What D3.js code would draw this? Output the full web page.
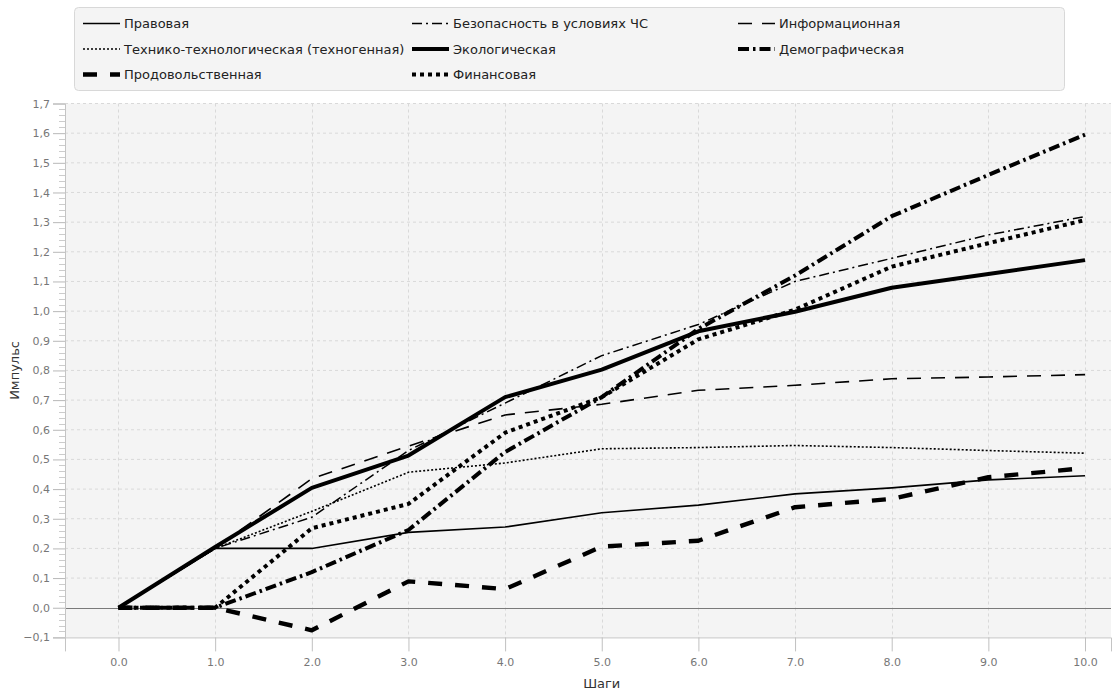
<!DOCTYPE html>
<html>
<head>
<meta charset="utf-8">
<script src="https://cdn.jsdelivr.net/npm/d3@7"></script>
<style>
  html, body { margin: 0; padding: 0; background: #fff; }
  svg { display: block; font-family: "DejaVu Sans", sans-serif; }
</style>
</head>
<body>
<svg id="chart" width="1114" height="691"></svg>
<script>
// Steps on the horizontal axis
const steps = [0, 1, 2, 3, 4, 5, 6, 7, 8, 9, 10];

// Impulse values of each security component per step
const pravovaya         = [0, 0.2, 0.2, 0.254, 0.272, 0.32, 0.346, 0.384, 0.404, 0.431, 0.445];
const bezopasnostChs    = [0, 0.2, 0.305, 0.53, 0.69, 0.85, 0.955, 1.1, 1.178, 1.257, 1.319];
const informatsionnaya  = [0, 0.2, 0.435, 0.545, 0.65, 0.686, 0.733, 0.75, 0.772, 0.778, 0.786];
const tekhnogennaya     = [0, 0.2, 0.325, 0.457, 0.488, 0.536, 0.54, 0.547, 0.54, 0.53, 0.521];
const ekologicheskaya   = [0, 0.205, 0.404, 0.513, 0.71, 0.803, 0.932, 0.998, 1.079, 1.125, 1.172];
const demograficheskaya = [0, 0, 0.12, 0.262, 0.525, 0.71, 0.94, 1.12, 1.32, 1.459, 1.595];
const prodovolstvennaya = [0, 0, -0.076, 0.089, 0.063, 0.206, 0.226, 0.339, 0.367, 0.44, 0.471];
const finansovaya       = [0, 0, 0.268, 0.35, 0.59, 0.71, 0.905, 1.005, 1.15, 1.229, 1.307];

// Series names, in legend order
const seriesNames = [
  "Правовая", "Безопасность в условиях ЧС", "Информационная",
  "Технико-технологическая (техногенная)", "Экологическая", "Демографическая",
  "Продовольственная", "Финансовая"
];
const seriesValues = [
  pravovaya, bezopasnostChs, informatsionnaya,
  tekhnogennaya, ekologicheskaya, demograficheskaya,
  prodovolstvennaya, finansovaya
];

// Tick values
const xTicks = [0, 1, 2, 3, 4, 5, 6, 7, 8, 9, 10];
const yTicks = [-0.1, 0, 0.1, 0.2, 0.3, 0.4, 0.5, 0.6, 0.7, 0.8, 0.9, 1.0, 1.1, 1.2, 1.3, 1.4, 1.5, 1.6, 1.7];

// Line styles per series: width and dash pattern
const lineStyles = [
  { w: 1.6, dash: null },
  { w: 1.5, dash: "10,4,2,4" },
  { w: 1.6, dash: "14,10" },
  { w: 1.6, dash: "2,2" },
  { w: 4,   dash: null },
  { w: 4,   dash: "11,4,2.5,4" },
  { w: 4.4, dash: "14,13" },
  { w: 4,   dash: "4,4" }
];

const svg = d3.select("#chart");

const plot = { left: 65, right: 1111, top: 103.5, bottom: 637.4 };

const x = d3.scaleLinear().domain([-0.5535, 10.269]).range([plot.left, plot.right]);
const y = d3.scaleLinear().domain([-0.1, 1.7]).range([plot.bottom, plot.top]);

// Plot background
svg.append("rect")
  .attr("x", plot.left).attr("y", plot.top)
  .attr("width", plot.right - plot.left).attr("height", plot.bottom - plot.top)
  .attr("fill", "#f4f4f4");

// Grid lines
const grid = svg.append("g");
grid.selectAll("line.h").data(yTicks.filter(v => v !== -0.1 && v !== 0)).join("line")
  .attr("x1", plot.left).attr("x2", plot.right)
  .attr("y1", d => y(d)).attr("y2", d => y(d))
  .attr("stroke", "#d9d9d9").attr("stroke-width", 1).attr("stroke-dasharray", "3,3");
grid.selectAll("line.v").data(xTicks).join("line")
  .attr("x1", d => Math.round(x(d)) + 0.5).attr("x2", d => Math.round(x(d)) + 0.5)
  .attr("y1", plot.top).attr("y2", plot.bottom)
  .attr("stroke", "#d9d9d9").attr("stroke-width", 1).attr("stroke-dasharray", "3,3");

// Zero line
svg.append("line")
  .attr("x1", plot.left).attr("x2", plot.right)
  .attr("y1", Math.round(y(0)) + 0.5).attr("y2", Math.round(y(0)) + 0.5)
  .attr("stroke", "#7a7a7a").attr("stroke-width", 1);

// Y axis with minor ticks
const fmtY = v => d3.format(".1f")(v).replace(".", ",");
const yAxis = d3.axisLeft(y).tickValues(yTicks).tickFormat(fmtY).tickSize(12).tickPadding(3);
const gy = svg.append("g").attr("transform", `translate(${plot.left},0)`).call(yAxis);
gy.select(".domain").attr("stroke", "#c4c4c4");
gy.selectAll(".tick line").attr("stroke", "#b8b8b8");
gy.selectAll(".tick text").attr("fill", "#777").style("font-size", "11px")
  .style("font-family", "'DejaVu Sans', sans-serif");

const minorY = d3.range(-0.1, 1.7001, 0.02).filter(v => Math.abs(Math.round(v * 10) - v * 10) > 0.01);
gy.selectAll("line.minor").data(minorY).join("line")
  .attr("class", "minor")
  .attr("x1", -6).attr("x2", 0)
  .attr("y1", d => Math.round(y(d)) + 0.5).attr("y2", d => Math.round(y(d)) + 0.5)
  .attr("stroke", "#cccccc");

// X axis
const xAxis = d3.axisBottom(x).tickValues(xTicks).tickFormat(d3.format(".1f")).tickSize(14).tickPadding(7);
const gx = svg.append("g").attr("transform", `translate(0,${plot.bottom})`).call(xAxis);
gx.select(".domain").attr("stroke", "#c4c4c4");
gx.selectAll(".tick line").attr("stroke", "#c0c0c0");
gx.selectAll(".tick text").attr("fill", "#777").style("font-size", "11px")
  .style("font-family", "'DejaVu Sans', sans-serif");

// Axis titles
svg.append("text")
  .attr("x", (x(0) + x(10)) / 2).attr("y", 688)
  .attr("text-anchor", "middle")
  .attr("fill", "#333").style("font-size", "13px")
  .text("Шаги");
svg.append("text")
  .attr("transform", `translate(19,${(plot.top + plot.bottom) / 2}) rotate(-90)`)
  .attr("text-anchor", "middle")
  .attr("fill", "#333").style("font-size", "13px")
  .text("Импульс");

// Series lines
const line = d3.line().x((d, i) => x(steps[i])).y(d => y(d));
const gLines = svg.append("g");
seriesValues.forEach((vals, k) => {
  const st = lineStyles[k];
  gLines.append("path")
    .datum(vals)
    .attr("d", line)
    .attr("fill", "none")
    .attr("stroke", "#000")
    .attr("stroke-width", st.w)
    .attr("stroke-linejoin", "round")
    .attr("stroke-dasharray", st.dash);
});

// Legend
const legend = svg.append("g");
legend.append("rect")
  .attr("x", 74.5).attr("y", 7.5).attr("width", 990).attr("height", 83)
  .attr("rx", 4).attr("fill", "#f4f4f4").attr("stroke", "#d8d8d8");

const legendCols = [83, 412, 738];
const legendRows = [23.5, 49, 74.5];
seriesNames.forEach((name, k) => {
  const cx = legendCols[k % 3];
  const cy = legendRows[Math.floor(k / 3)];
  const st = lineStyles[k];
  legend.append("line")
    .attr("x1", cx).attr("x2", cx + 37)
    .attr("y1", cy).attr("y2", cy)
    .attr("stroke", "#000")
    .attr("stroke-width", st.w)
    .attr("stroke-dasharray", st.dash);
  legend.append("text")
    .attr("x", cx + 41).attr("y", cy)
    .attr("dy", "0.35em")
    .attr("fill", "#222").style("font-size", "13px")
    .text(name);
});
</script>
</body>
</html>
